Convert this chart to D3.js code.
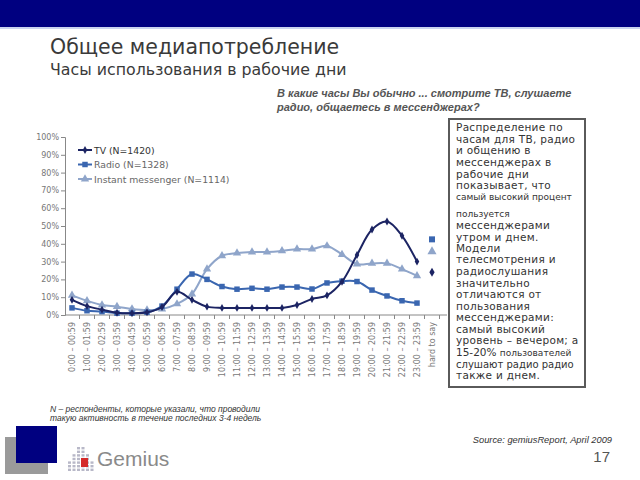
<!DOCTYPE html>
<html><head><meta charset="utf-8">
<script src="https://d3js.org/d3.v7.min.js"></script>
<style>body{margin:0;background:#fff;}svg{display:block;}</style>
</head><body>
<script>
// ---- data ----
const categories = ["0:00 – 00:59","1:00 – 01:59","2:00 – 02:59","3:00 – 03:59","4:00 – 04:59","5:00 – 05:59",
  "6:00 – 06:59","7:00 – 07:59","8:00 – 08:59","9:00 – 09:59","10:00 – 10:59","11:00 – 11:59",
  "12:00 – 12:59","13:00 – 13:59","14:00 – 14:59","15:00 – 15:59","16:00 – 16:59","17:00 – 17:59",
  "18:00 – 18:59","19:00 – 19:59","20:00 – 20:59","21:00 – 21:59","22:00 – 22:59","23:00 – 23:59","hard to say"];
const seriesNames = ["TV (N=1420)","Radio (N=1328)","Instant messenger (N=1114)"];
const tvValues    = [8.5,5,3,1.3,1,1.5,4.5,13,8.5,4.7,4,4, 4,4,4,5.6,9,11,18.7,33.7,48,52.5,44.5,30];
const radioValues = [4,2.4,1.9,1,1,1.5,5,14.5,23,20,16,14.5, 15,14.5,15.7,15.7,14.6,18,19,18.8,14,10.7,8,6.7];
const imValues    = [11,8,5.6,4.7,3.4,2.8,3.3,6.2,11.8,25.8,33.3,34.8, 35.4,35.4,36,37,37,38.8,34,28.6,29,29,25.8,22];
const hardToSay   = [24, 42.5, 35.6]; // TV, Radio, IM
const yTicks = [0,10,20,30,40,50,60,70,80,90,100];

const colors = ["#1c2463","#3a66b0","#8fa5ca"];
const symbols = [d3.symbolDiamond, d3.symbolSquare, d3.symbolTriangle];
const symSizes = [18, 30, 30];

const svg = d3.select("body").append("svg").attr("width",640).attr("height",480);
svg.append("rect").attr("width",640).attr("height",480).attr("fill","#fff");

// banner
svg.append("rect").attr("x",0).attr("y",0).attr("width",640).attr("height",27).attr("fill","#000080");
svg.append("line").attr("x1",0).attr("x2",640).attr("y1",28).attr("y2",28).attr("stroke","#b8c4ea").attr("stroke-width",1.5);

// titles
svg.append("text").attr("x",50).attr("y",54).attr("font-family","DejaVu Sans").attr("font-size",20.5)
  .attr("fill","#3a3a3a").text("Общее медиапотребление");
svg.append("text").attr("x",50).attr("y",75).attr("font-family","DejaVu Sans").attr("font-size",15.8)
  .attr("fill","#3a3a3a").text("Часы использования в рабочие дни");

const q = svg.append("text").attr("font-family","Liberation Sans").attr("font-size",11)
  .attr("font-weight","bold").attr("font-style","italic").attr("fill","#555");
q.append("tspan").attr("x",277).attr("y",97).text("В какие часы Вы обычно ... смотрите ТВ, слушаете");
q.append("tspan").attr("x",277).attr("y",111).text("радио, общаетесь в мессенджерах?");

// scales
const x = d3.scaleBand().domain(categories).range([64.5,439.5]);
const y = d3.scaleLinear().domain([0,100]).range([315,137]);
const cx = c => x(c) + x.bandwidth()/2;

// y axis
const yAxis = svg.append("g").attr("transform","translate(65,0)")
  .call(d3.axisLeft(y).tickValues(yTicks).tickSize(4).tickFormat(d => d + "%"));
yAxis.select(".domain").attr("stroke","#888");
yAxis.selectAll(".tick line").attr("stroke","#888");
yAxis.selectAll("text").attr("font-family","DejaVu Sans").attr("font-size",8).attr("fill","#777").attr("x",-6);

// x axis
const xAxis = svg.append("g").attr("transform","translate(0,315)")
  .call(d3.axisBottom(x).tickSize(0).tickSizeOuter(0));
xAxis.select(".domain").attr("stroke","#888").attr("d","M65,0H447");
xAxis.selectAll(".tick text").attr("font-family","DejaVu Sans").attr("font-size",8).attr("fill","#777")
  .attr("transform","rotate(-90)").attr("text-anchor","end").attr("x",-7).attr("y",0).attr("dy","0.32em");
// tick marks at band boundaries
svg.append("g").selectAll("line").data(categories).join("line")
  .attr("x1",d => x(d) + x.bandwidth()).attr("x2",d => x(d) + x.bandwidth())
  .attr("y1",315).attr("y2",319).attr("stroke","#888");

// lines
const hours = categories.slice(0,24);
const allSeries = [tvValues, radioValues, imValues];
const line = d3.line().x((d,i) => cx(hours[i])).y(d => y(d)).curve(d3.curveCatmullRom.alpha(0.5));
[2,1,0].forEach(s => {
  const g = svg.append("g");
  g.append("path").attr("d", line(allSeries[s])).attr("fill","none").attr("stroke",colors[s]).attr("stroke-width",2);
  g.selectAll("path.m").data(allSeries[s]).join("path").attr("class","m")
    .attr("transform",(d,i) => `translate(${cx(hours[i])},${y(d)})`)
    .attr("d", d3.symbol().type(symbols[s]).size(symSizes[s])).attr("fill",colors[s]);
  g.append("path").attr("transform",`translate(${cx(categories[24])},${y(hardToSay[s])})`)
    .attr("d", d3.symbol().type(symbols[s]).size(symSizes[s]+6)).attr("fill",colors[s]);
});

// legend
const legY = [150,164.5,179];
seriesNames.forEach((n,s) => {
  svg.append("line").attr("x1",78).attr("x2",92).attr("y1",legY[s]).attr("y2",legY[s]).attr("stroke",colors[s]).attr("stroke-width",2);
  svg.append("path").attr("transform",`translate(85,${legY[s]})`).attr("d",d3.symbol().type(symbols[s]).size(symSizes[s])).attr("fill",colors[s]);
  svg.append("text").attr("x",94).attr("y",legY[s]+3.5).attr("font-family","DejaVu Sans").attr("font-size",9.3)
    .attr("fill", s===0 ? "#333" : "#666").text(n);
});

// text box
svg.append("rect").attr("x",449).attr("y",119).attr("width",136).attr("height",268)
  .attr("fill","#fff").attr("stroke","#5a5a5a").attr("stroke-width",2);
const boxLines = [
  ["Распределение по",131,10.5],["часам для ТВ, радио",143,10.5],["и общению в",154,10.5],
  ["мессенджерах в",166,10.5],["рабочие дни",178,10.5],["показывает, что",189,10.5],
  ["самый высокий процент",200,9],
  ["пользуется",217,9],["мессенджерами",229,10.5],["утром и днем.",241,10.5],["Модели",252,10.5],
  ["телесмотрения и",263,10.5],["радиослушания",275,10.5],["значительно",287,10.5],
  ["отличаются от",298,10.5],["пользования",310,10.5],["мессенджерами:",321,10.5],
  ["самый высокий",333,10.5],["уровень – вечером; а",344,10.5]
];
boxLines.forEach(([t,yy,fs]) => {
  svg.append("text").attr("x",456).attr("y",yy).attr("font-family","DejaVu Sans").attr("font-size",fs)
    .attr("fill","#333").attr("letter-spacing", fs>10 ? 0.3 : 0).text(t);
});
const l1 = svg.append("text").attr("x",456).attr("y",356).attr("font-family","DejaVu Sans").attr("fill","#333");
l1.append("tspan").attr("font-size",10.5).text("15-20% ");
l1.append("tspan").attr("font-size",9).text("пользователей");
svg.append("text").attr("x",456).attr("y",368).attr("font-family","DejaVu Sans").attr("font-size",10)
  .attr("fill","#333").text("слушают радио радио");
svg.append("text").attr("x",456).attr("y",379).attr("font-family","DejaVu Sans").attr("font-size",10.5)
  .attr("fill","#333").attr("letter-spacing",0.3).text("также и днем.");

// footnote
const fn = svg.append("text").attr("font-family","Liberation Sans").attr("font-style","italic").attr("font-size",8.5).attr("fill","#333");
fn.append("tspan").attr("x",50).attr("y",412).text("N – респонденты, которые указали, что проводили");
fn.append("tspan").attr("x",50).attr("y",421).text("такую активность в течение последних 3-4 недель");

// source & page number
svg.append("text").attr("x",612).attr("y",443).attr("text-anchor","end").attr("font-family","Liberation Sans")
  .attr("font-style","italic").attr("font-size",9.3).attr("fill","#333").text("Source: gemiusReport, April 2009");
svg.append("text").attr("x",610).attr("y",462).attr("text-anchor","end").attr("font-family","Liberation Sans")
  .attr("font-size",15).attr("fill","#555").text("17");

// logo
svg.append("rect").attr("x",5).attr("y",437).attr("width",43).attr("height",37).attr("fill","#9a9a9a");
svg.append("rect").attr("x",16).attr("y",426).attr("width",41).attr("height",37).attr("fill","#000080");
const dots = svg.append("g");
for (let c = 0; c < 6; c++) {
  for (let r = 0; r < 7; r++) {
    const h = [3,5,7,7,5,3][c];
    if (r < 7 - h) continue;
    dots.append("rect").attr("x",68 + c*4.5).attr("y",447 + r*3.6).attr("width",3).attr("height",2.4).attr("fill","#b8b8c8");
  }
}
dots.append("rect").attr("x",81).attr("y",458).attr("width",7).attr("height",9).attr("fill","#d42a2a");
svg.append("text").attr("x",97).attr("y",466).attr("font-family","Liberation Sans").attr("font-size",21)
  .attr("fill","#8a8a8a").text("Gemius");
</script>
</body></html>
